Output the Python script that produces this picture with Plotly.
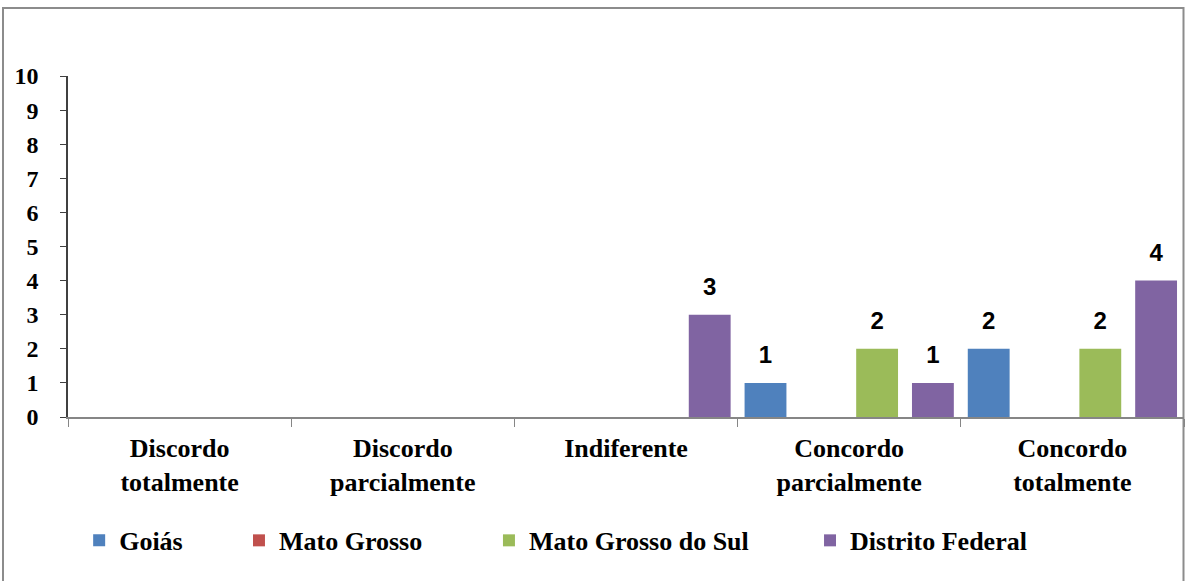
import plotly.graph_objects as go

categories = ["Discordo<br>totalmente", "Discordo<br>parcialmente", "Indiferente",
              "Concordo<br>parcialmente", "Concordo<br>totalmente"]
series_names = ["Goiás", "Mato Grosso", "Mato Grosso do Sul", "Distrito Federal"]
goias = [0, 0, 0, 1, 2]
mato_grosso = [0, 0, 0, 0, 0]
mato_grosso_sul = [0, 0, 0, 2, 2]
distrito_federal = [0, 0, 3, 1, 4]
y_ticks = list(range(0, 11))

series_values = [goias, mato_grosso, mato_grosso_sul, distrito_federal]
colors = ["#4F81BD", "#C0504D", "#9BBB59", "#8064A2"]
legend_ids = ["legend", "legend2", "legend3", "legend4"]
legend_x = [0.0100, 0.1532, 0.3772, 0.6649]

SERIF = "Liberation Serif"
SANS = "Liberation Sans"

fig = go.Figure()
for i, (name, vals) in enumerate(zip(series_names, series_values)):
    fig.add_trace(go.Bar(
        x=categories, y=vals, name=name, marker_color=colors[i],
        marker_line_width=0, offsetgroup=str(i), legend=legend_ids[i],
    ))
for i, (name, vals) in enumerate(zip(series_names, series_values)):
    fig.add_trace(go.Scatter(
        x=categories, y=vals, mode="markers+text",
        text=[str(v) if v else "" for v in vals],
        textposition="top center",
        textfont=dict(family=SANS, size=24, color="#000000", weight="bold"),
        marker=dict(size=20, opacity=0),
        offsetgroup=str(i), showlegend=False, hoverinfo="skip",
    ))

legend_common = dict(orientation="h", yanchor="middle", y=-0.362, xanchor="left",
                     font=dict(family=SERIF, size=26, color="#000000", weight="bold"),
                     bgcolor="rgba(0,0,0,0)", borderwidth=0)
layout_legends = {}
for lid, lx in zip(legend_ids, legend_x):
    layout_legends[lid] = dict(legend_common, x=lx)

fig.update_layout(
    width=1185, height=581,
    margin=dict(l=68, r=1, t=76, b=164),
    paper_bgcolor="white", plot_bgcolor="white",
    barmode="group", bargap=0, bargroupgap=0.25,
    scattermode="group", scattergap=0,
    showlegend=True,
    **layout_legends,
    xaxis=dict(
        type="category", showline=True, linecolor="#868686", linewidth=1.5,
        ticks="outside", tickson="boundaries", ticklen=8, tickcolor="#868686",
        tickfont=dict(family=SERIF, size=26, color="#000000", weight="bold"),
        ticklabelstandoff=7,
        showgrid=False, zeroline=False, fixedrange=True,
    ),
    yaxis=dict(
        range=[0, 10], tickvals=y_ticks, showline=True, linecolor="#404040",
        linewidth=1.5, ticks="outside", ticklen=6, tickcolor="#404040",
        tickfont=dict(family=SERIF, size=24, color="#000000", weight="bold"),
        ticklabelstandoff=17,
        showgrid=False, zeroline=False,
    ),
    shapes=[dict(type="rect", xref="paper", yref="paper",
                 x0=(3 - 68) / 1116, x1=(1183.5 - 68) / 1116,
                 y0=-0.7, y1=(417 - 8) / 341,
                 line=dict(color="#8C8C8C", width=2), fillcolor="rgba(0,0,0,0)",
                 layer="below")],
)

fig.write_html("out.html")
